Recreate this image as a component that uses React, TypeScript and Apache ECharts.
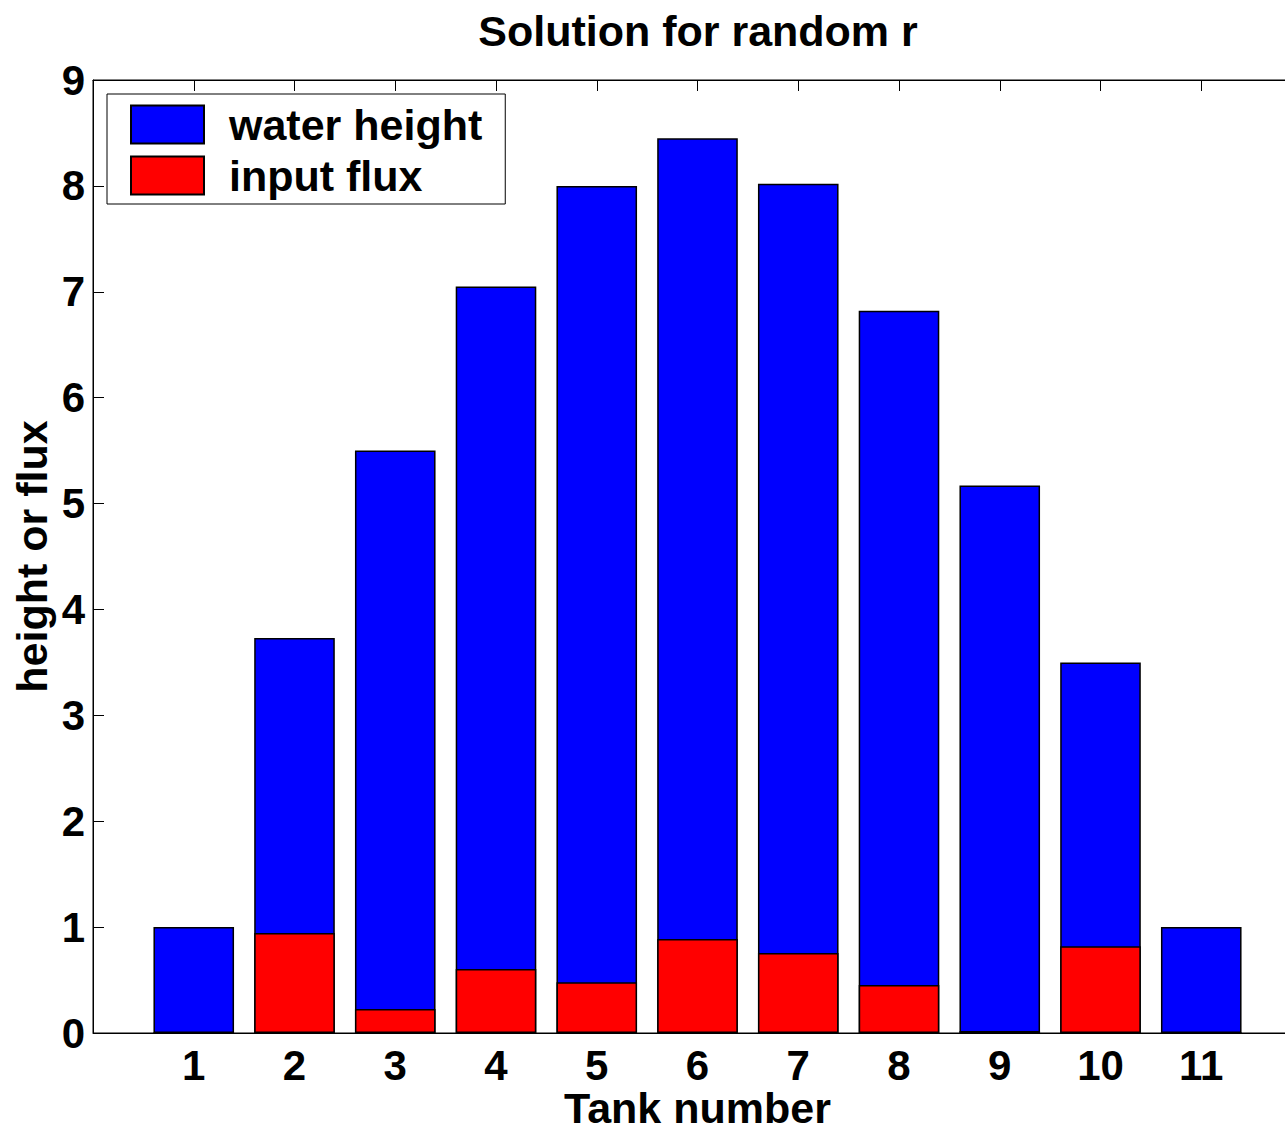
import React, { useEffect, useRef } from "react";
import * as echarts from "echarts";

const titleText = "Solution for random r";
const xAxisName = "Tank number";
const yAxisName = "height or flux";
const tanks = ["1", "2", "3", "4", "5", "6", "7", "8", "9", "10", "11"];
const axisCategories = ["0", ...tanks, "12"];
const waterHeight = [1.0, 3.73, 5.5, 7.05, 8.0, 8.45, 8.02, 6.82, 5.17, 3.5, 1.0];
const inputFlux = [0, 0.944, 0.227, 0.604, 0.48, 0.888, 0.755, 0.453, 0.02, 0.82, 0];
const seriesNames = ["water height", "input flux"];
const yMin = 0;
const yMax = 9;
const yInterval = 1;

const FONT = "Liberation Sans, Arial, Helvetica, sans-serif";

export default function App() {
  const ref = useRef<HTMLDivElement>(null);
  useEffect(() => {
    if (!ref.current) return;
    const chart = echarts.init(ref.current, null, { renderer: "svg" });
    const pad = (arr: number[]) => [null, ...arr, null];
    const textBase = { fontFamily: FONT, fontWeight: "bold" as const, color: "#000" };
    chart.setOption({
      animation: false,
      backgroundColor: "#fff",
      title: {
        text: titleText,
        left: 693,
        top: 4,
        textAlign: "center",
        textStyle: { ...textBase, fontSize: 43 },
      },
      legend: {
        orient: "vertical",
        left: 107,
        top: 94,
        itemWidth: 73,
        itemHeight: 38,
        itemGap: 8,
        padding: [9, 23, 7, 23],
        borderColor: "#000",
        borderWidth: 1,
        borderRadius: 0,
        backgroundColor: "#fff",
        icon: "rect",
        textStyle: { ...textBase, fontSize: 43, padding: [0, 0, 0, 20] },
        data: seriesNames,
      },
      grid: {
        left: 93,
        top: 80,
        right: 18,
        bottom: 100,
        outerBoundsMode: "none",
        containLabel: false,
        show: true,
        borderColor: "#000",
        borderWidth: 1,
        backgroundColor: "transparent",
      },
      xAxis: [
        {
          type: "category",
          data: axisCategories,
          boundaryGap: false,
          position: "bottom",
          name: xAxisName,
          nameLocation: "middle",
          nameGap: 53,
          nameMoveOverlap: false,
          nameTextStyle: { ...textBase, fontSize: 43 },
          axisLine: { lineStyle: { color: "#000", width: 1 } },
          axisTick: { inside: true, length: 11, lineStyle: { color: "#000" } },
          axisLabel: {
            ...textBase,
            fontSize: 42,
            margin: 11,
            interval: 0,
            formatter: (v: string, i: number) =>
              i === 0 || i === axisCategories.length - 1 ? "" : v,
          },
          splitLine: { show: false },
        },
        {
          type: "category",
          data: axisCategories,
          boundaryGap: false,
          position: "top",
          axisLine: { lineStyle: { color: "#000", width: 1 } },
          axisTick: { inside: true, length: 11, interval: 0, lineStyle: { color: "#000" } },
          axisLabel: { show: false },
          splitLine: { show: false },
        },
      ],
      yAxis: {
        type: "value",
        min: yMin,
        max: yMax,
        interval: yInterval,
        name: yAxisName,
        nameLocation: "middle",
        nameGap: 40,
        nameMoveOverlap: false,
        nameRotate: 90,
        nameTextStyle: { ...textBase, fontSize: 43 },
        axisLine: { show: true, lineStyle: { color: "#000", width: 1 } },
        axisTick: { show: true, inside: true, length: 11, lineStyle: { color: "#000" } },
        axisLabel: { ...textBase, fontSize: 42, margin: 8 },
        splitLine: { show: false },
      },
      series: [
        {
          name: seriesNames[0],
          type: "bar",
          xAxisIndex: 0,
          data: pad(waterHeight),
          barWidth: "80%",
          itemStyle: { color: "#0000ff", borderColor: "#000", borderWidth: 1.5 },
        },
        {
          name: seriesNames[1],
          type: "bar",
          xAxisIndex: 0,
          data: pad(inputFlux),
          barWidth: "80%",
          barGap: "-100%",
          itemStyle: { color: "#ff0000", borderColor: "#000", borderWidth: 1.5 },
        },
      ],
    });
    return () => chart.dispose();
  }, []);
  return (
    <div
      style={{
        position: "absolute",
        left: 0,
        top: 0,
        width: 1285,
        height: 1133,
        overflow: "hidden",
        background: "#fff",
      }}
    >
      <div ref={ref} style={{ width: 1320, height: 1133 }} />
    </div>
  );
}
